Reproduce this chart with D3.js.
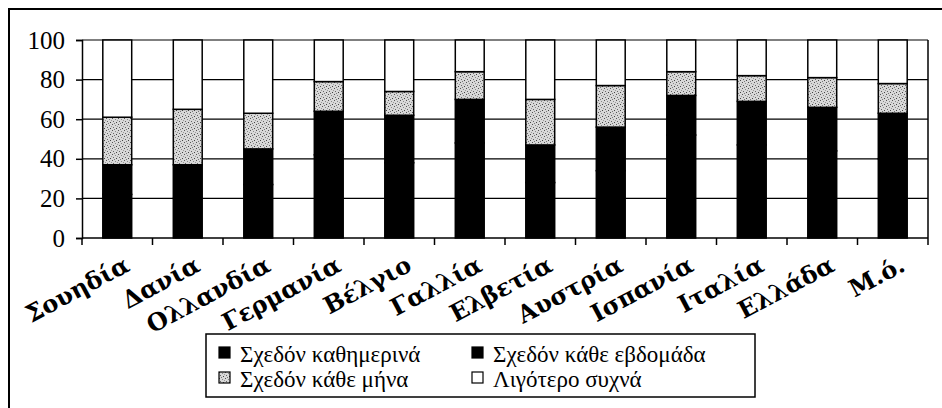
<!DOCTYPE html>
<html>
<head>
<meta charset="utf-8">
<script src="https://cdn.jsdelivr.net/npm/d3@7"></script>
<style>
  body { margin: 0; background: #fff; }
  svg { display: block; }
</style>
</head>
<body>
<div id="chart"></div>
<script>
// categories (countries) and the four stacked series, in %
var countries = ["Σουηδία", "Δανία", "Ολλανδία", "Γερμανία", "Βέλγιο", "Γαλλία",
  "Ελβετία", "Αυστρία", "Ισπανία", "Ιταλία", "Ελλάδα", "Μ.ό."];
var seriesNames = ["Σχεδόν καθημερινά", "Σχεδόν κάθε εβδομάδα", "Σχεδόν κάθε μήνα", "Λιγότερο συχνά"];
var daily   = [22, 20, 27, 42, 38, 48, 28, 34, 52, 47, 44, 40];
var weekly  = [15, 17, 18, 22, 24, 22, 19, 22, 20, 22, 22, 23];
var monthly = [24, 28, 18, 15, 12, 14, 23, 21, 12, 13, 15, 15];
var rarely  = [39, 35, 37, 21, 26, 16, 30, 23, 16, 18, 19, 22];
var yTicks = [0, 20, 40, 60, 80, 100];

var svgWidth = 942, svgHeight = 408;
var margin = { top: 40, right: 14, bottom: 170, left: 82 };
var width = svgWidth - margin.left - margin.right;
var height = svgHeight - margin.top - margin.bottom;

var svg = d3.select("#chart").append("svg")
  .attr("width", svgWidth)
  .attr("height", svgHeight);

// stipple fill for the monthly series
var defs = svg.append("defs");
var pat = defs.append("pattern")
  .attr("id", "stipple")
  .attr("patternUnits", "userSpaceOnUse")
  .attr("width", 6).attr("height", 6);
pat.append("rect").attr("width", 6).attr("height", 6).attr("fill", "#d8d8d8");
[[0, 0, "#555"], [3, 1, "#888"], [1, 3, "#666"], [4, 4, "#444"], [5, 2, "#999"], [2, 5, "#777"]]
  .forEach(function(p) {
    pat.append("rect").attr("x", p[0]).attr("y", p[1]).attr("width", 1).attr("height", 1).attr("fill", p[2]);
  });

var fills = ["#000", "#000", "url(#stipple)", "#fff"];

// outer frame
svg.append("rect")
  .attr("x", 9).attr("y", 9)
  .attr("width", 940).attr("height", 405)
  .attr("fill", "none").attr("stroke", "#000").attr("stroke-width", 2);

var chartGroup = svg.append("g")
  .attr("transform", `translate(${margin.left}, ${margin.top})`);

var x = d3.scaleBand().domain(countries).range([0, width]).paddingInner(0.59).paddingOuter(0.295);
var band = d3.scaleBand().domain(countries).range([0, width]);
var y = d3.scaleLinear().domain([0, 100]).range([height, 0]);

// grid lines
chartGroup.selectAll(".grid")
  .data(yTicks.slice(1))
  .enter()
  .append("line")
  .attr("x1", 0).attr("x2", width)
  .attr("y1", d => y(d)).attr("y2", d => y(d))
  .attr("stroke", "#000").attr("stroke-width", 1.2);

// plot border right side
chartGroup.append("line")
  .attr("x1", width).attr("x2", width)
  .attr("y1", 0).attr("y2", height)
  .attr("stroke", "#000").attr("stroke-width", 1.5);

// stacked data
var rows = countries.map(function(c, i) {
  return { country: c, s0: daily[i], s1: weekly[i], s2: monthly[i], s3: rarely[i] };
});
var stack = d3.stack().keys(["s0", "s1", "s2", "s3"]);
var layers = stack(rows);

chartGroup.selectAll(".layer")
  .data(layers)
  .enter()
  .append("g")
  .attr("fill", (d, i) => fills[i])
  .selectAll("rect")
  .data(d => d)
  .enter()
  .append("rect")
  .attr("x", d => x(d.data.country))
  .attr("width", x.bandwidth())
  .attr("y", d => y(d[1]))
  .attr("height", d => y(d[0]) - y(d[1]))
  .attr("stroke", "#000")
  .attr("stroke-width", 1.5);

// y axis
var leftAxis = d3.axisLeft(y).tickValues(yTicks).tickSize(6).tickPadding(11);
var yAxis = chartGroup.append("g").call(leftAxis)
  .attr("font-family", null).attr("font-size", null);
yAxis.select(".domain").attr("stroke-width", 1.5);
yAxis.selectAll(".tick line").attr("stroke-width", 1.5);
yAxis.selectAll("text")
  .style("font-family", "'Liberation Serif'")
  .style("font-size", "25px")
  .attr("fill", "#000");

// x axis: ticks at band edges
var xAxis = chartGroup.append("g").attr("transform", `translate(0, ${height})`);
xAxis.append("line")
  .attr("x1", 0).attr("x2", width)
  .attr("stroke", "#000").attr("stroke-width", 1.5);
xAxis.selectAll(".tick")
  .data(countries.concat([null]))
  .enter()
  .append("line")
  .attr("x1", (d, i) => i < countries.length ? band(d) : width)
  .attr("x2", (d, i) => i < countries.length ? band(d) : width)
  .attr("y1", 0).attr("y2", 7)
  .attr("stroke", "#000").attr("stroke-width", 1.5);

xAxis.selectAll(".label")
  .data(countries)
  .enter()
  .append("text")
  .attr("transform", d => `translate(${band(d) + band.bandwidth() / 2 + 14}, 32) rotate(-28)`)
  .attr("text-anchor", "end")
  .style("font-family", "'DejaVu Serif'")
  .style("font-weight", "bold")
  .style("font-size", "24px")
  .text(d => d);

// legend
var legend = svg.append("g").attr("transform", "translate(206, 334)");
legend.append("rect")
  .attr("width", 549).attr("height", 63)
  .attr("fill", "#fff").attr("stroke", "#000").attr("stroke-width", 1.5);

var legendItems = legend.selectAll(".item")
  .data(seriesNames)
  .enter()
  .append("g")
  .attr("transform", (d, i) => `translate(${13 + (i % 2) * 253}, ${13 + Math.floor(i / 2) * 25})`);

legendItems.append("rect")
  .attr("width", 11).attr("height", 11)
  .attr("fill", (d, i) => fills[i])
  .attr("stroke", "#000").attr("stroke-width", 1.2);

legendItems.append("text")
  .attr("x", 21).attr("y", 15)
  .style("font-family", "'Liberation Serif'")
  .style("font-size", "23px")
  .text(d => d);
</script>
</body>
</html>
